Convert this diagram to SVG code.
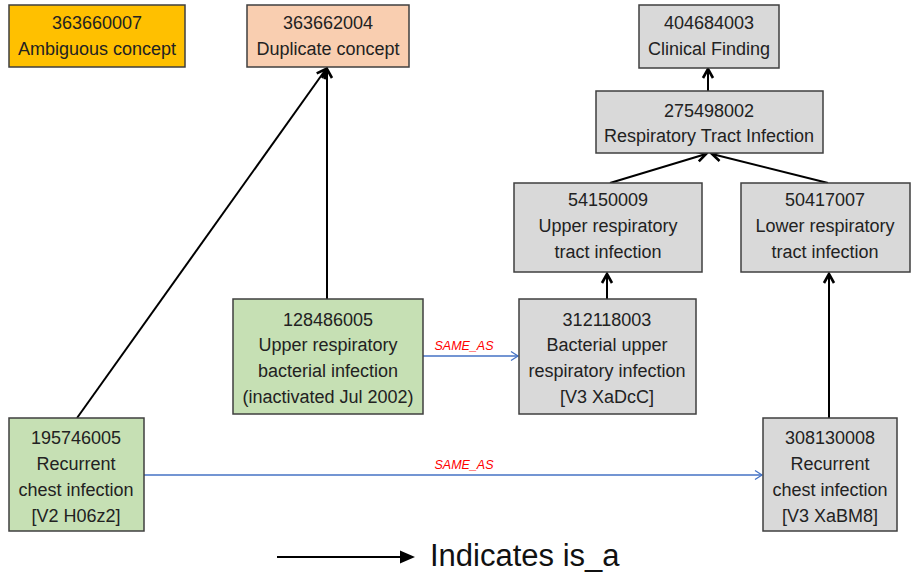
<svg xmlns="http://www.w3.org/2000/svg" width="911" height="573" viewBox="0 0 911 573">
<style>
.box{stroke:#3f3f3f;stroke-width:1.5}
.amber{fill:#FFC000}.peach{fill:#F9CEB0}.green{fill:#C6E0B4}.gray{fill:#D9D9D9}
text{font-family:"Liberation Sans",Arial,sans-serif;font-size:18px;fill:#222;text-anchor:middle}
.isa{stroke:#000;stroke-width:2;fill:none;marker-end:url(#open)}
.same{stroke:#4472C4;stroke-width:1.3;fill:none;marker-end:url(#blue)}
.lbl{font-size:12.5px;font-style:italic;fill:#FF0000}
.legend{font-size:31px;text-anchor:start;fill:#111}
</style>
<defs>
<marker id="open" markerWidth="14" markerHeight="14" refX="10" refY="6" orient="auto" markerUnits="userSpaceOnUse" viewBox="0 0 14 12">
<path d="M1,1 L10,6 L1,11" fill="none" stroke="#000" stroke-width="2.6"/>
</marker>
<marker id="blue" markerWidth="12" markerHeight="12" refX="9" refY="6" orient="auto" markerUnits="userSpaceOnUse" viewBox="0 0 12 12">
<path d="M2,1.5 L9,6 L2,10.5" fill="none" stroke="#4472C4" stroke-width="1.3"/>
</marker>
<marker id="solid" markerWidth="16" markerHeight="14" refX="1" refY="6.5" orient="auto" markerUnits="userSpaceOnUse" viewBox="0 0 16 13">
<path d="M0,0 L15,6.5 L0,13 Z" fill="#000"/>
</marker>
</defs>

<g id="connectors">
<line class="isa" x1="77" y1="418" x2="326" y2="69"/>
<line class="isa" x1="327" y1="299" x2="327" y2="69"/>
<line class="isa" x1="607" y1="299" x2="607" y2="274"/>
<line class="isa" x1="610" y1="183" x2="706" y2="154"/>
<line class="isa" x1="828" y1="183" x2="712" y2="154"/>
<line class="isa" x1="708" y1="91" x2="708" y2="69"/>
<line class="isa" x1="829" y1="418" x2="829" y2="274"/>
<line class="same" x1="423" y1="356" x2="518" y2="356"/>
<text class="lbl" x="464" y="350">SAME_AS</text>
<line class="same" x1="144" y1="475" x2="762" y2="475"/>
<text class="lbl" x="464" y="469">SAME_AS</text>
</g>

<g id="n363660007">
<rect class="box amber" x="9" y="5" width="176" height="62"/>
<text x="97" y="29">363660007</text>
<text x="97" y="55">Ambiguous concept</text>
</g>
<g id="n363662004">
<rect class="box peach" x="247" y="5" width="162" height="62"/>
<text x="328" y="29">363662004</text>
<text x="328" y="55">Duplicate concept</text>
</g>
<g id="n404684003">
<rect class="box gray" x="639" y="5" width="140" height="63"/>
<text x="709" y="29">404684003</text>
<text x="709" y="55">Clinical Finding</text>
</g>
<g id="n275498002">
<rect class="box gray" x="596" y="91" width="227" height="62"/>
<text x="709" y="117">275498002</text>
<text x="709" y="142">Respiratory Tract Infection</text>
</g>
<g id="n54150009">
<rect class="box gray" x="514" y="183" width="188" height="89"/>
<text x="608" y="206">54150009</text>
<text x="608" y="232">Upper respiratory</text>
<text x="608" y="258">tract infection</text>
</g>
<g id="n50417007">
<rect class="box gray" x="741" y="183" width="169" height="89"/>
<text x="825" y="206">50417007</text>
<text x="825" y="232">Lower respiratory</text>
<text x="825" y="258">tract infection</text>
</g>
<g id="n128486005">
<rect class="box green" x="233" y="299" width="190" height="115"/>
<text x="328" y="326">128486005</text>
<text x="328" y="351">Upper respiratory</text>
<text x="328" y="377">bacterial infection</text>
<text x="328" y="403">(inactivated Jul 2002)</text>
</g>
<g id="n312118003">
<rect class="box gray" x="519" y="299" width="177" height="115"/>
<text x="607" y="326">312118003</text>
<text x="607" y="351">Bacterial upper</text>
<text x="607" y="377">respiratory infection</text>
<text x="607" y="403">[V3 XaDcC]</text>
</g>
<g id="n195746005">
<rect class="box green" x="9" y="418" width="135" height="113"/>
<text x="76" y="444">195746005</text>
<text x="76" y="470">Recurrent</text>
<text x="76" y="496">chest infection</text>
<text x="76" y="522">[V2 H06z2]</text>
</g>
<g id="n308130008">
<rect class="box gray" x="763" y="418" width="134" height="113"/>
<text x="830" y="444">308130008</text>
<text x="830" y="470">Recurrent</text>
<text x="830" y="496">chest infection</text>
<text x="830" y="522">[V3 XaBM8]</text>
</g>

<g id="legend">
<line x1="277" y1="557" x2="401" y2="557" stroke="#000" stroke-width="2" marker-end="url(#solid)"/>
<text class="legend" x="430" y="566">Indicates is_a</text>
</g>
</svg>
